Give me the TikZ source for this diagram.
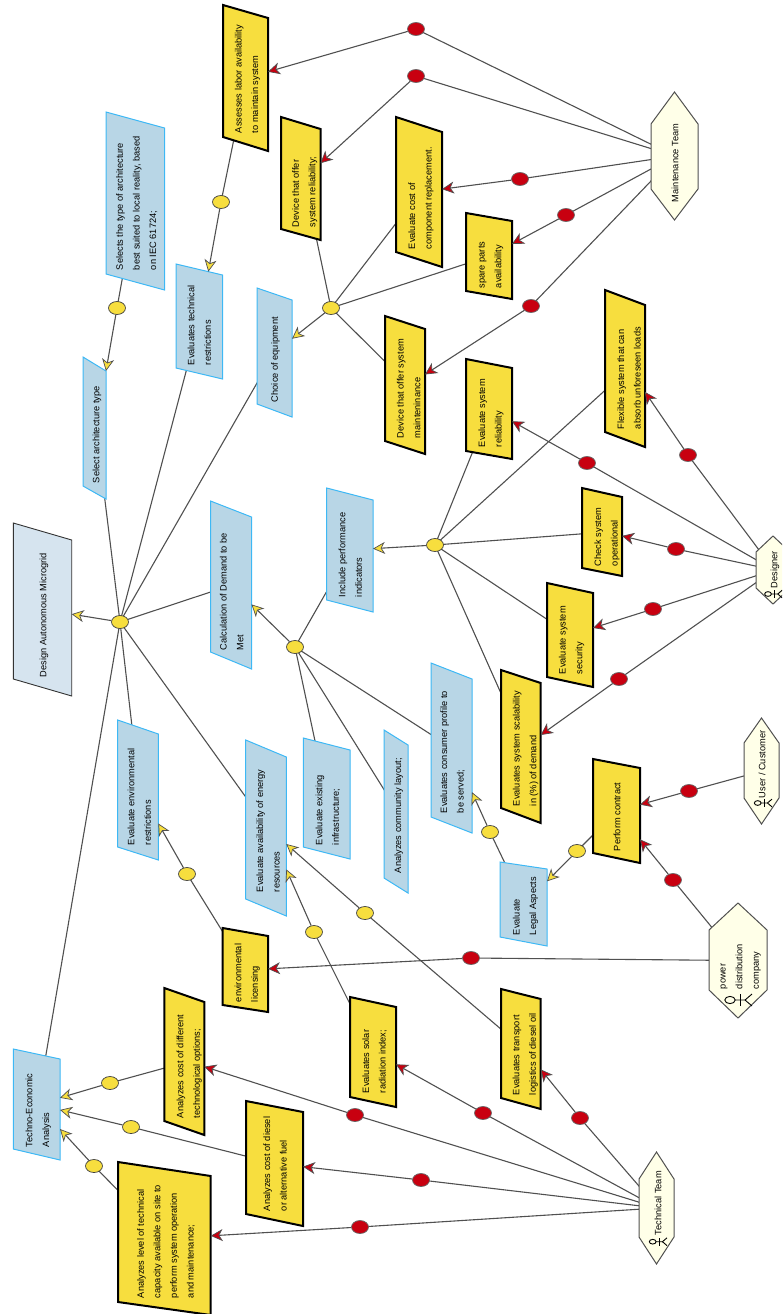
\documentclass[tikz,border=0pt]{standalone}
\usepackage{fontspec}
\setmainfont{Liberation Sans}
\usetikzlibrary{arrows.meta,shapes.geometric,intersections,backgrounds}
\definecolor{yfill}{HTML}{F7DE3E}
\definecolor{bfill}{HTML}{B8D6E6}
\definecolor{bline}{HTML}{3DB8F5}
\definecolor{dfill}{HTML}{D6E4EF}
\definecolor{hfill}{HTML}{FFFFE8}
\definecolor{rfill}{HTML}{C80010}
\definecolor{lncol}{HTML}{505050}
\tikzset{
  goalbox/.style={draw=black,line width=2pt,fill=yfill,line join=miter},
  softbox/.style={draw=bline,line width=1pt,fill=bfill},
  rootbox/.style={draw=black!80,line width=0.9pt,fill=dfill},
  actorhex/.style={draw=lncol,line width=1pt,fill=hfill},
  boxtext/.style={rotate=90,inner sep=0pt,font=\fontsize{9.25}{16.6}\selectfont},
  ydot/.style={ellipse,draw=black!75,line width=0.7pt,fill=yfill,minimum width=17pt,minimum height=13pt,inner sep=0pt},
  rdot/.style={ellipse,draw=black!60,line width=0.7pt,fill=rfill,minimum width=17pt,minimum height=13pt,inner sep=0pt},
  plainlink/.style={draw=lncol,line width=1.1pt},
  yarrow/.style={draw=lncol,line width=1.1pt,-{Stealth[length=12pt,width=12pt,inset=3.5pt,fill=yfill,line width=0.7pt]}},
  rarrow/.style={draw=lncol,line width=1.1pt,-{Stealth[length=12pt,width=12pt,inset=3.5pt,fill=rfill,line width=0.7pt]}},
}
% parallelogram with rotated text
\def\shp#1#2#3#4#5#6#7#8#9{\def\sNm{#1}\def\sSt{#2}\def\sXl{#3}\def\sXr{#4}\def\sTl{#5}\def\sTr{#6}\def\sBl{#7}\def\sBr{#8}\def\sBase{#9}\shpcont}
\def\shpcont#1#2{%
  \path[\sSt,name path global=P-\sNm] (\sXl,\sTl) -- (\sXr,\sTr) -- (\sXr,\sBr) -- (\sXl,\sBl) -- cycle;
  \pgfmathsetmacro\sCy{(\sTl+\sBr)/2}
  \pgfmathsetmacro\sCx{(\sXl+\sXr)/2+#1}
  \pgfmathsetmacro\sW{2*(\sBase-\sCy)}
  \node[boxtext] (\sNm) at (\sCx,\sCy) {\makebox[\sW pt][l]{\begin{tabular}[c]{@{}l@{}}#2\end{tabular}}};
}
% hexagon: name, xl, xr, ytop, yshoulder, ylowshoulder, ybottom, ybase, textx, text
\def\hexa#1#2#3#4#5#6#7#8#9{\def\sNm{#1}\def\sXl{#2}\def\sXr{#3}\def\sT{#4}\def\sS{#5}\def\sL{#6}\def\sB{#7}\def\sBase{#8}\def\sTx{#9}\hexacont}
\def\hexacont#1{%
  \pgfmathsetmacro\sAx{(\sXl+\sXr)/2}
  \path[actorhex,name path global=P-\sNm] (\sAx,\sT) -- (\sXr,\sS) -- (\sXr,\sL) -- (\sAx,\sB) -- (\sXl,\sL) -- (\sXl,\sS) -- cycle;
  \pgfmathsetmacro\sCy{(\sT+\sB)/2}
  \pgfmathsetmacro\sW{2*(\sBase-\sCy)}
  \node[boxtext] (\sNm) at (\sTx,\sCy) {\makebox[\sW pt][l]{\begin{tabular}[c]{@{}l@{}}#1\end{tabular}}};
}
% stick figure: head x, head y, scale
\newcommand\actorfig[3]{%
  \begin{scope}[shift={(#1,#2)},x=#3pt,y=#3pt,line width=0.9pt,draw=black]
    \draw (0,0) ellipse [x radius=5.2,y radius=3.6];
    \draw (5.2,0) -- (15,0) -- (22,6);
    \draw (15,0) -- (22,-6);
    \draw (10,-6) -- (10,6);
  \end{scope}}
\newcommand\plainto[2]{\begin{scope}[on background layer]\foreach \q in {#1}{\draw[plainlink] (\q.center) -- (#2.center);}\end{scope}}
\newcommand\arrto[3]{%
  \path[name path=tmpL] (#2.center) -- (#3.center);
  \path[name intersections={of=tmpL and P-#3}];
  \draw[#1] (#2) -- (intersection-1);}
\begin{document}
\begin{tikzpicture}[x=1pt,y=-1pt]
\useasboundingbox (0,0) rectangle (782,1314);
\clip (0,0) rectangle (782,1314);
% goals
\shp{assess}{goalbox}{223}{268}{5}{18}{137}{151}{133}{1}{Assesses labor availability\\to maintain system}
\shp{devrel}{goalbox}{281}{320.5}{117}{129}{229}{240}{227}{3}{Device that offer\\system reliability;}
\shp{evcost}{goalbox}{396}{442}{117}{132}{252}{267}{249}{1}{Evaluate cost of\\component replacement.}
\shp{spare}{goalbox}{466}{512}{213}{221}{291}{299}{288}{0.7}{spare parts\\availability}
\shp{devmnt}{goalbox}{385}{425}{316}{329}{441}{454}{438}{3.7}{Device that offer system\\mainteninance}
\shp{evrel}{goalbox}{466}{512}{359}{368}{451}{459}{447}{1}{Evaluate system\\reliability}
\shp{flex}{goalbox}{605}{645}{290}{305}{432}{447}{429}{4}{Flexible system that can\\absorb unforeseen loads}
\shp{check}{goalbox}{582}{622}{488}{497}{568}{576}{566}{4}{Check system\\operational}
\shp{secur}{goalbox}{547}{593}{583}{593}{677}{687}{674}{0.7}{Evaluate system\\security}
\shp{scal}{goalbox}{501}{540.7}{670}{683}{808}{823}{806}{3.8}{Evaluates system scalability\\in (\%) of demand}
\shp{contract}{goalbox}{593}{640}{759}{768}{853}{863}{851}{0.5}{Perform contract}
\shp{envlic}{goalbox}{222.7}{268}{928}{936}{1005}{1012}{1002}{1}{environmental\\licensing}
\shp{costdiff}{goalbox}{164.3}{204.3}{988}{1002}{1121}{1135}{1118}{4}{Analyzes cost of different\\technological options;}
\shp{solar}{goalbox}{350}{396}{997}{1007}{1097}{1107}{1093}{1}{Evaluates solar\\radiation index;}
\shp{transp}{goalbox}{501}{540.7}{989}{999}{1098}{1109}{1095}{3.4}{Evaluates transport\\logistics of diesel oil}
\shp{diesel}{goalbox}{246}{303}{1101}{1112}{1214}{1226}{1211}{0.5}{Analyzes cost of diesel\\or alternative fuel}
\shp{level}{goalbox}{118}{210.7}{1162}{1176}{1302}{1315}{1298}{1}{Analyzes level of technical\\capacity available on site to\\perform system operation\\and maintenance;}
% soft goals
\shp{selects}{softbox}{106}{164.5}{112}{128}{274}{290}{270}{1}{Selects the type of architecture\\best suited to local reality, based\\on IEC 61724;}
\shp{techres}{softbox}{176}{222.5}{264}{275}{368}{379}{365}{0}{Evaluates technical\\restrictions}
\shp{choice}{softbox}{257}{292}{288}{300}{404}{417}{402}{0}{Choice of equipment}
\shp{selarch}{softbox}{83}{106}{357}{371}{486}{499}{483}{1.5}{Select architecture type}
\shp{calc}{softbox}{210.5}{251.5}{501}{517}{652}{669}{650}{0.7}{Calculation of Demand to be\\Met}
\shp{incl}{softbox}{326.7}{373}{488}{500}{600}{612}{597}{0.5}{Include performance\\indicators}
\shp{evenv}{softbox}{117.7}{158.3}{720}{734}{847}{860}{845}{1.3}{Evaluate environmental\\restrictions}
\shp{avail}{softbox}{245.7}{286.3}{740}{757}{899}{916}{892}{2}{Evaluate availability of energy\\resources}
\shp{exist}{softbox}{303.3}{350}{738}{750}{847}{859}{845}{0.6}{Evaluate existing\\infrastructure;}
\shp{commun}{softbox}{384}{408}{730}{745}{878}{893}{873}{1.7}{Analyzes community layout;}
\shp{consum}{softbox}{431}{472}{663}{679}{817}{833}{813}{0.5}{Evaluates consumer profile to\\be served;}
\shp{legal}{softbox}{500}{547}{862}{869}{937}{946}{935}{1}{Evaluate\\Legal Aspects}
\shp{techno}{softbox}{13.3}{60}{1049}{1059}{1149}{1160}{1147}{0.8}{Techno-Economic\\Analysis}
\shp{design}{rootbox}{13.3}{71.7}{523}{540}{679}{696}{677}{0.5}{Design Autonomous Microgrid}
% actors
\hexa{maint}{651}{698}{92}{124}{189}{220}{202}{675}{Maintenance Team}
\hexa{designer}{756}{790}{536}{552}{588}{604}{588}{774}{Designer}
\hexa{user}{744}{779}{718}{743}{798}{824}{798}{762}{User / Customer}
\hexa{power}{709}{767}{903}{930}{990}{1018}{989}{739}{power\\distribution\\company}
\hexa{techteam}{639}{674}{1152}{1179}{1237}{1264}{1235}{658}{Technical Team}
\actorfig{730}{1000}{1}
\actorfig{757.7}{803}{0.65}
\actorfig{652.7}{1241.7}{0.65}
\actorfig{768}{594}{0.65}
% junction dots
\node[ydot] (y1) at (221,202) {};
\node[ydot] (y2) at (117,308) {};
\node[ydot] (y3) at (331,308) {};
\node[ydot] (y4) at (120,622) {};
\node[ydot] (y5) at (295,647) {};
\node[ydot] (y6) at (435,545) {};
\node[ydot] (y7) at (577,851) {};
\node[ydot] (y8) at (490,832) {};
\node[ydot] (y9) at (187,874) {};
\node[ydot] (y10) at (314,932) {};
\node[ydot] (y11) at (365,913) {};
\node[ydot] (y12) at (110,1083) {};
\node[ydot] (y13) at (131,1127) {};
\node[ydot] (y14) at (94,1166) {};
\node[rdot] (r1) at (416,29) {};
\node[rdot] (r2) at (416,76) {};
\node[rdot] (r3) at (520,179) {};
\node[rdot] (r4) at (566,215) {};
\node[rdot] (r5) at (531,306) {};
\node[rdot] (r6) at (688,455) {};
\node[rdot] (r7) at (587,463) {};
\node[rdot] (r8) at (676,549) {};
\node[rdot] (r9) at (653,609) {};
\node[rdot] (r10) at (619,679) {};
\node[rdot] (r11) at (689,791) {};
\node[rdot] (r12) at (673,880) {};
\node[rdot] (r13) at (471,958) {};
\node[rdot] (r14) at (580,1118) {};
\node[rdot] (r15) at (483,1113) {};
\node[rdot] (r16) at (355,1115) {};
\node[rdot] (r17) at (421,1180) {};
\node[rdot] (r18) at (360,1227) {};
% plain links
\plainto{r1,r2,r3,r4,r5}{maint}
\plainto{r6,r7,r8,r9,r10}{designer}
\plainto{r11}{user}
\plainto{r12,r13}{power}
\plainto{r14,r15,r16,r17,r18}{techteam}
\plainto{assess}{y1}
\plainto{selects}{y2}
\plainto{devrel,evcost,spare,devmnt}{y3}
\plainto{selarch,techres,choice,calc,evenv,avail,techno}{y4}
\plainto{incl,exist,commun,consum}{y5}
\plainto{evrel,flex,check,secur,scal}{y6}
\plainto{contract}{y7}
\plainto{legal}{y8}
\plainto{envlic}{y9}
\plainto{solar}{y10}
\plainto{transp}{y11}
\plainto{costdiff}{y12}
\plainto{diesel}{y13}
\plainto{level}{y14}
% yellow arrows
\arrto{yarrow}{y1}{techres}
\arrto{yarrow}{y2}{selarch}
\arrto{yarrow}{y3}{choice}
\arrto{yarrow}{y4}{design}
\arrto{yarrow}{y5}{calc}
\arrto{yarrow}{y6}{incl}
\arrto{yarrow}{y7}{legal}
\arrto{yarrow}{y8}{consum}
\arrto{yarrow}{y9}{evenv}
\arrto{yarrow}{y10}{avail}
\arrto{yarrow}{y11}{avail}
\arrto{yarrow}{y12}{techno}
\arrto{yarrow}{y13}{techno}
\arrto{yarrow}{y14}{techno}
% red arrows
\arrto{rarrow}{r1}{assess}
\arrto{rarrow}{r2}{devrel}
\arrto{rarrow}{r3}{evcost}
\arrto{rarrow}{r4}{spare}
\arrto{rarrow}{r5}{devmnt}
\arrto{rarrow}{r6}{flex}
\arrto{rarrow}{r7}{evrel}
\arrto{rarrow}{r8}{check}
\arrto{rarrow}{r9}{secur}
\arrto{rarrow}{r10}{scal}
\arrto{rarrow}{r11}{contract}
\arrto{rarrow}{r12}{contract}
\arrto{rarrow}{r13}{envlic}
\arrto{rarrow}{r14}{transp}
\arrto{rarrow}{r15}{solar}
\arrto{rarrow}{r16}{costdiff}
\arrto{rarrow}{r17}{diesel}
\arrto{rarrow}{r18}{level}
\end{tikzpicture}
\end{document}
